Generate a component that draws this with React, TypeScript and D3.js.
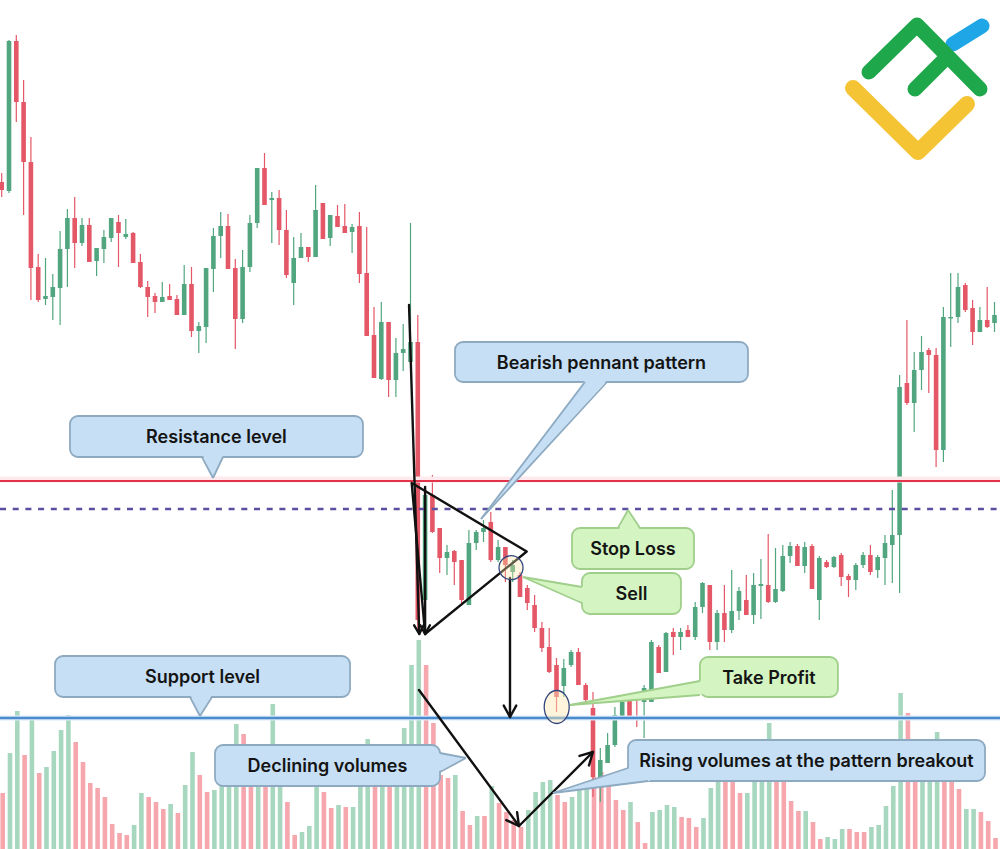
import React from 'react'
import * as d3 from 'd3'

// candle prices, one entry per bar
const opens = [
  818, 809, 959, 898, 838, 733, 701, 703, 712, 751,
  782, 757, 775, 739, 751, 762, 778, 763, 767, 738,
  713, 704, 698, 704, 701, 685, 716, 669, 673, 731,
  764, 774, 732, 681, 733, 777, 832, 800, 802, 770,
  717, 742, 753, 743, 797, 762, 784, 774, 768, 774,
  727, 665, 621, 678, 620, 647, 638, 658, 400, 505,
  472, 442, 449, 440, 395, 457, 468, 478, 440, 453,
  428, 425, 412, 395, 372, 353, 335, 314, 335, 348,
  315, 292, 223, 237, 255, 283, 300, 283, 298, 298,
  353, 328, 368, 363, 370, 363, 393, 415, 358, 387,
  370, 389, 400, 385, 414, 415, 398, 409, 444, 454,
  434, 454, 400, 438, 433, 445, 424, 420, 435, 445,
  430, 442, 455, 465, 617, 597, 630, 650, 645, 550,
  682, 683, 715, 692, 668, 680, 677,
]
const highs = [
  827, 960, 965, 920, 863, 746, 742, 726, 769, 791,
  803, 782, 782, 752, 770, 782, 785, 781, 768, 746,
  719, 707, 718, 716, 705, 735, 733, 678, 732, 772,
  788, 786, 741, 750, 785, 832, 847, 808, 810, 790,
  763, 767, 753, 815, 797, 785, 795, 796, 776, 788,
  773, 693, 698, 678, 662, 676, 777, 685, 513, 525,
  472, 455, 450, 440, 470, 470, 480, 488, 460, 453,
  440, 428, 415, 405, 378, 372, 342, 341, 350, 352,
  317, 308, 252, 267, 293, 300, 303, 300, 315, 360,
  355, 368, 372, 372, 375, 398, 418, 415, 390, 415,
  430, 413, 425, 427, 441, 466, 452, 455, 458, 456,
  458, 456, 444, 440, 444, 447, 426, 437, 448, 455,
  445, 465, 510, 625, 680, 648, 664, 652, 652, 693,
  727, 727, 717, 700, 693, 713, 698,
]
const lows = [
  803, 807, 878, 785, 700, 698, 695, 680, 675, 713,
  732, 754, 738, 724, 737, 758, 733, 761, 737, 712,
  683, 687, 698, 700, 685, 685, 663, 647, 657, 708,
  742, 731, 651, 677, 728, 772, 795, 757, 755, 722,
  695, 742, 738, 743, 761, 754, 773, 767, 747, 717,
  664, 622, 620, 603, 603, 629, 635, 370, 365, 467,
  427, 425, 415, 397, 395, 450, 458, 438, 438, 418,
  418, 403, 390, 368, 348, 327, 288, 303, 333, 315,
  297, 203, 198, 237, 253, 283, 280, 273, 262, 298,
  327, 328, 345, 350, 363, 360, 387, 350, 350, 358,
  367, 380, 385, 376, 381, 397, 397, 408, 437, 434,
  427, 411, 380, 432, 432, 414, 403, 410, 432, 425,
  422, 415, 417, 407, 595, 568, 610, 607, 533, 538,
  653, 677, 688, 655, 668, 672, 668,
]
const closes = [
  810, 959, 898, 838, 732, 700, 704, 713, 751, 782,
  757, 775, 738, 752, 763, 782, 767, 766, 737, 713,
  703, 698, 703, 700, 685, 716, 669, 674, 732, 764,
  774, 731, 681, 733, 777, 832, 795, 802, 770, 725,
  742, 753, 743, 790, 761, 785, 773, 767, 773, 726,
  664, 622, 678, 620, 647, 651, 658, 380, 505, 468,
  442, 448, 438, 400, 457, 468, 472, 440, 453, 435,
  435, 403, 397, 372, 352, 328, 303, 332, 348, 315,
  300, 223, 240, 255, 285, 298, 282, 280, 312, 358,
  327, 367, 363, 368, 363, 393, 417, 358, 387, 370,
  389, 409, 385, 415, 416, 398, 411, 444, 454, 434,
  453, 411, 442, 433, 443, 423, 420, 435, 445, 428,
  443, 457, 465, 613, 597, 630, 648, 645, 550, 683,
  683, 713, 690, 668, 680, 673, 685,
]

// traded volume and its direction (1 = up bar)
const volumes = [
  28, 48, 69, 47, 64.5, 38, 41, 49, 59.5, 67,
  53.5, 43.5, 33, 30.5, 26, 12.5, 8, 7, 12, 28,
  26, 23.5, 20, 22.5, 18, 32, 48.5, 37, 28.5, 29.5,
  42, 44.5, 62.5, 57.5, 39.5, 42, 37, 72.5, 39.5, 23.5,
  7, 8.5, 11.5, 31.5, 28.5, 20.5, 22, 21, 21, 37,
  55, 42, 44.5, 42, 47, 60.5, 92, 104.5, 92, 63,
  37, 35.5, 37, 19, 12, 16.5, 16.5, 31.5, 23, 18.5,
  14.5, 11, 19.5, 28.5, 33.5, 34.5, 27, 23.5, 26, 30.5,
  31, 36, 38.5, 32, 24.5, 19.5, 23.5, 13.5, 3, 18.5,
  19.5, 22, 21, 16, 15.5, 11, 15.5, 30.5, 39.5, 37,
  40.5, 28, 28, 39.5, 42, 63, 37, 39.5, 24, 19,
  19, 13.5, 5, 6, 5, 10, 10, 8.5, 8.5, 11,
  12, 21.5, 31.5, 78, 68, 39.5, 37, 39.5, 58.5, 39.5,
  37, 30, 20, 20, 18.5, 14, 5.5,
]
const volumeUp = [
  0, 1, 1, 0, 1, 0, 1, 1, 1, 1,
  0, 0, 0, 0, 0, 0, 0, 0, 1, 1,
  0, 0, 0, 1, 0, 1, 1, 0, 0, 1,
  1, 1, 1, 0, 0, 1, 0, 1, 1, 0,
  0, 1, 1, 1, 0, 0, 1, 0, 1, 1,
  1, 0, 1, 0, 1, 1, 1, 1, 0, 0,
  0, 0, 1, 0, 0, 1, 0, 1, 0, 0,
  0, 0, 1, 1, 1, 1, 0, 0, 1, 1,
  1, 0, 0, 0, 0, 0, 1, 0, 0, 1,
  1, 1, 1, 0, 0, 0, 1, 1, 1, 0,
  0, 0, 1, 1, 1, 1, 0, 0, 0, 0,
  1, 0, 0, 1, 1, 1, 0, 0, 0, 1,
  1, 1, 1, 1, 0, 0, 1, 1, 1, 0,
  0, 0, 1, 1, 0, 0, 0,
]

// horizontal levels
const resistance = 519
const support = 282
const stopLoss = 491

// drawn pattern lines as [bar index, price]
const poleLine = [[55.8, 695], [57.2, 366]]
const poleEdge = [[58, 513], [58, 366]]
const pennant = [[56.16, 517], [71.92, 448.5], [58, 366]]
const sellArrow = [[69.63, 422], [69.63, 283]]
const volDown = [[57.16, 310], [70.86, 174]]
const volUp = [[70.86, 174], [80.99, 248]]

const callouts = [
  { text: 'Resistance level', i: 29.42, p: 563.5, w: 293, h: 41, tip: [28.95, 522], base: [[-14.5, 20.5], [6.5, 20.5]] },
  { text: 'Support level', i: 27.51, p: 323.5, w: 295, h: 41, tip: [27.16, 284], base: [[-12.5, 20.5], [9.5, 20.5]] },
  { text: 'Declining volumes', i: 44.63, p: 234.5, w: 225, h: 41, tip: [63.6, 242], base: [[112.5, -12.5], [112.5, 6.5]] },
  { text: 'Bearish pennant pattern', i: 82.16, p: 638, w: 293, h: 40, tip: [65.66, 481], base: [[-16.5, 20], [5.5, 20]] },
  { text: 'Stop Loss', i: 86.48, p: 451.5, w: 122, h: 41, tip: [85.8, 490], base: [[-15, -20.5], [7, -20.5]], green: true },
  { text: 'Sell', i: 86.27, p: 406.5, w: 99, h: 41, tip: [71.41, 423], base: [[-49.5, -6.5], [-49.5, 9.5]], green: true },
  { text: 'Take Profit', i: 105.1, p: 323, w: 138, h: 40, tip: [77.85, 295], base: [[-69, 4], [-69, 18]], green: true },
  { text: 'Rising volumes at the pattern breakout', i: 110.25, p: 239.5, w: 357, h: 41, tip: [75.52, 207], base: [[-178.5, 7.5], [-158.5, 20.5]] },
]

const width = 1000
const height = 849

function Callout({ c, x, y }) {
  const cx = x(c.i)
  const cy = y(c.p)
  const tx = x(c.tip[0])
  const ty = y(c.tip[1])
  const b1 = [cx + c.base[0][0], cy + c.base[0][1]]
  const b2 = [cx + c.base[1][0], cy + c.base[1][1]]
  // push the pointer fill a little into the box so the seam disappears
  const mx = (b1[0] + b2[0]) / 2
  const my = (b1[1] + b2[1]) / 2
  const len = Math.hypot(cx - mx, cy - my)
  const ix = ((cx - mx) / len) * 2.5
  const iy = ((cy - my) / len) * 2.5
  const fill = c.green ? '#d4f5c2' : '#c6dff5'
  const stroke = c.green ? '#9fcf8b' : '#8eaac1'
  return (
    <g>
      <rect x={cx - c.w / 2} y={cy - c.h / 2} width={c.w} height={c.h} rx={8}
        fill={fill} stroke={stroke} strokeWidth={1.8} />
      <polygon
        points={`${tx},${ty} ${b1[0] + ix},${b1[1] + iy} ${b2[0] + ix},${b2[1] + iy}`}
        fill={fill} />
      <line x1={tx} y1={ty} x2={b1[0]} y2={b1[1]} stroke={stroke} strokeWidth={1.8} />
      <line x1={tx} y1={ty} x2={b2[0]} y2={b2[1]} stroke={stroke} strokeWidth={1.8} />
      <text x={cx} y={cy + 6.5} textAnchor="middle" fontSize={18} fontWeight={600}
        fontFamily="Inter, 'Noto Sans', sans-serif" fill="#141414">
        {c.text}
      </text>
    </g>
  )
}

function arrowHead(x1, y1, x2, y2, size = 13) {
  const a = Math.atan2(y2 - y1, x2 - x1)
  const l = [x2 - size * Math.cos(a - 0.5), y2 - size * Math.sin(a - 0.5)]
  const r = [x2 - size * Math.cos(a + 0.5), y2 - size * Math.sin(a + 0.5)]
  return `M${l[0]},${l[1]} L${x2},${y2} L${r[0]},${r[1]}`
}

export default function App() {
  const n = opens.length

  // bar index to x, price to y
  const x = d3.scaleLinear().domain([0, n - 1]).range([1.7, 994.5])
  const y = d3.scaleLinear().domain([151, 1000]).range([849, 0])
  const v = d3.scaleLinear().domain([0, 100]).range([849, 649])

  const up = '#52a67f'
  const down = '#e45766'

  const candles = d3.range(n).map(i => {
    const isUp = closes[i] >= opens[i]
    const top = y(Math.max(opens[i], closes[i]))
    const bot = y(Math.min(opens[i], closes[i]))
    const col = isUp ? up : down
    return (
      <g key={i}>
        <line x1={x(i)} x2={x(i)} y1={y(highs[i])} y2={y(lows[i])} stroke={col} strokeWidth={1.2} />
        <rect x={x(i) - 2.3} y={top} width={4.6} height={Math.max(bot - top, 1.5)} fill={col} />
      </g>
    )
  })

  const volBars = volumes.map((d, i) => (
    <rect key={i} x={x(i) + 1 - 2.3} y={v(d)} width={4.6} height={v(0) - v(d)}
      fill={volumeUp[i] ? '#a7d8bf' : '#f6a7ae'} />
  ))

  const seg = (pts, key, head) => {
    const [a, b] = pts
    const x1 = x(a[0]), y1 = y(a[1]), x2 = x(b[0]), y2 = y(b[1])
    return (
      <g key={key}>
        <line x1={x1} y1={y1} x2={x2} y2={y2} stroke="#111" strokeWidth={2.4} strokeLinecap="round" />
        {head && <path d={arrowHead(x1, y1, x2, y2, head)} fill="none" stroke="#111" strokeWidth={2.4}
          strokeLinecap="round" strokeLinejoin="round" />}
      </g>
    )
  }

  const pennantPath = d3.line().x(d => x(d[0])).y(d => y(d[1]))(pennant) + 'Z'

  return (
    <svg width={width} height={height} style={{ position: 'absolute', left: 0, top: 0, background: '#fff' }}>
      <g>{volBars}</g>
      <g>{candles}</g>

      {/* levels */}
      <line x1={0} x2={width} y1={y(support)} y2={y(support)} stroke="#dceaf7" strokeWidth={5} />
      <line x1={0} x2={width} y1={y(support)} y2={y(support)} stroke="#4a8bd0" strokeWidth={2.4} />
      <line x1={0} x2={width} y1={y(resistance) - 1.5} y2={y(resistance) - 1.5} stroke="#feeaee" strokeWidth={6} />
      <line x1={0} x2={width} y1={y(resistance)} y2={y(resistance)} stroke="#e3334b" strokeWidth={2.2} />
      <line x1={0} x2={width} y1={y(stopLoss)} y2={y(stopLoss)} stroke="#5a4fa0" strokeWidth={2.3}
        strokeDasharray="6 6.7" />

      {/* pattern drawing */}
      <path d={pennantPath} fill="none" stroke="#111" strokeWidth={2.4} strokeLinejoin="round" />
      {seg(poleLine, 'pole', 10)}
      {seg(poleEdge, 'edge', 10)}
      {seg(sellArrow, 'sell', 13)}
      {seg(volDown, 'vd', 14)}
      {seg(volUp, 'vu', 14)}

      <circle cx={x(69.77)} cy={y(432.3)} r={12} fill="rgba(255,228,170,0.35)" stroke="#34477e" strokeWidth={1.3} />
      <ellipse cx={x(76.03)} cy={y(293)} rx={12.5} ry={16.5} fill="rgba(255,232,180,0.45)" stroke="#34477e" strokeWidth={1.3} />

      {callouts.map((c, k) => <Callout key={k} c={c} x={x} y={y} />)}

      {/* logo */}
      <g fill="none" strokeLinecap="round" strokeLinejoin="round">
        <path d="M953,44 L982,26" stroke="#1ea6e6" strokeWidth={15} />
        <path d="M869,72 L917,25 L980,89" stroke="#1fa74b" strokeWidth={15} />
        <path d="M915,89 L944,60" stroke="#1fa74b" strokeWidth={15} />
        <path d="M853,88 L918,152 L967,104" stroke="#f4c434" strokeWidth={16} />
      </g>
    </svg>
  )
}
